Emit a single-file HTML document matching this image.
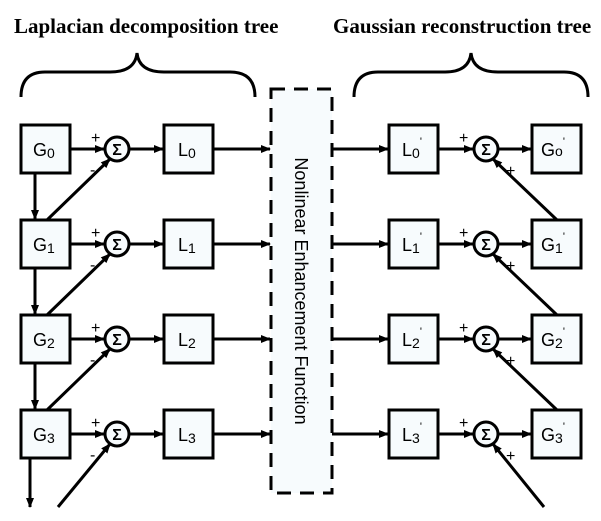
<!DOCTYPE html>
<html><head><meta charset="utf-8"><style>
html,body{margin:0;padding:0;background:#fff;}
svg{display:block;}
.t{font-family:"Liberation Serif",serif;font-weight:bold;font-size:21px;}
.b{font-family:"Liberation Sans",sans-serif;font-size:18px;}
.s{font-family:"Liberation Sans",sans-serif;font-size:16px;}
</style></head><body>
<svg width="601" height="521" viewBox="0 0 601 521" xmlns="http://www.w3.org/2000/svg">
<defs>
<marker id="a" markerWidth="10" markerHeight="10" refX="9" refY="5" orient="auto" markerUnits="userSpaceOnUse">
<path d="M0,1 L10,5 L0,9 Z" fill="#000"/></marker>
</defs>
<text class="t" x="14" y="33">Laplacian decomposition tree</text>
<text class="t" x="333" y="33">Gaussian reconstruction tree</text>
<g fill="none" stroke="#000" stroke-width="3">
<path d="M21,97 Q21,72 45,72 L110,72 Q135,72 137,53 Q139,72 164,72 L230,72 Q255,72 255,97"/>
<path d="M354,97 Q354,72 378,72 L445,72 Q469,72 471,53 Q473,72 498,72 L564,72 Q588,72 588,97"/>
<rect x="271" y="89" width="61" height="404" stroke-dasharray="14,9" fill="#f7fbfd"/>
</g>
<text class="b" transform="translate(295,291) rotate(90)" text-anchor="middle">Nonlinear Enhancement Function</text>
<g stroke="#000" stroke-width="3" fill="#f7fbfd">
<rect x="21" y="125" width="49" height="48"/><rect x="21" y="220" width="49" height="48"/><rect x="21" y="315" width="49" height="48"/><rect x="21" y="410" width="49" height="48"/>
<rect x="164" y="125" width="49" height="48"/><rect x="164" y="220" width="49" height="48"/><rect x="164" y="315" width="49" height="48"/><rect x="164" y="410" width="49" height="48"/>
<rect x="389" y="125" width="49" height="48"/><rect x="389" y="220" width="49" height="48"/><rect x="389" y="315" width="49" height="48"/><rect x="389" y="410" width="49" height="48"/>
<rect x="532" y="125" width="49" height="48"/><rect x="532" y="220" width="49" height="48"/><rect x="532" y="315" width="49" height="48"/><rect x="532" y="410" width="49" height="48"/>
<circle cx="117" cy="149" r="12"/><circle cx="117" cy="244" r="12"/><circle cx="117" cy="339" r="12"/><circle cx="117" cy="434" r="12"/>
<circle cx="486" cy="149" r="12"/><circle cx="486" cy="244" r="12"/><circle cx="486" cy="339" r="12"/><circle cx="486" cy="434" r="12"/>
</g>
<g stroke="#000" stroke-width="3" fill="none" marker-end="url(#a)">
<line x1="70" y1="149" x2="104" y2="149"/><line x1="70" y1="244" x2="104" y2="244"/><line x1="70" y1="339" x2="104" y2="339"/><line x1="70" y1="434" x2="104" y2="434"/>
<line x1="129" y1="149" x2="163" y2="149"/><line x1="129" y1="244" x2="163" y2="244"/><line x1="129" y1="339" x2="163" y2="339"/><line x1="129" y1="434" x2="163" y2="434"/>
<line x1="213" y1="149" x2="270" y2="149"/><line x1="213" y1="244" x2="270" y2="244"/><line x1="213" y1="339" x2="270" y2="339"/><line x1="213" y1="434" x2="270" y2="434"/>
<line x1="332" y1="149" x2="388" y2="149"/><line x1="332" y1="244" x2="388" y2="244"/><line x1="332" y1="339" x2="388" y2="339"/><line x1="332" y1="434" x2="388" y2="434"/>
<line x1="438" y1="149" x2="473" y2="149"/><line x1="438" y1="244" x2="473" y2="244"/><line x1="438" y1="339" x2="473" y2="339"/><line x1="438" y1="434" x2="473" y2="434"/>
<line x1="498" y1="149" x2="531" y2="149"/><line x1="498" y1="244" x2="531" y2="244"/><line x1="498" y1="339" x2="531" y2="339"/><line x1="498" y1="434" x2="531" y2="434"/>
<line x1="35" y1="173" x2="35" y2="219"/><line x1="35" y1="268" x2="35" y2="314"/><line x1="35" y1="363" x2="35" y2="409"/><line x1="30" y1="458" x2="30" y2="507"/>
<line x1="47" y1="220" x2="110" y2="159"/><line x1="47" y1="315" x2="110" y2="254"/><line x1="47" y1="410" x2="110" y2="349"/><line x1="58" y1="507" x2="110" y2="444"/>
<line x1="557" y1="220" x2="493" y2="159"/><line x1="557" y1="315" x2="493" y2="254"/><line x1="557" y1="410" x2="493" y2="349"/><line x1="544" y1="507" x2="493" y2="444"/>
</g>
<g class="s" font-weight="bold" text-anchor="middle">
<text x="117" y="155">Σ</text><text x="117" y="250">Σ</text><text x="117" y="345">Σ</text><text x="117" y="440">Σ</text>
<text x="486" y="155">Σ</text><text x="486" y="250">Σ</text><text x="486" y="345">Σ</text><text x="486" y="440">Σ</text>
</g>
<g class="s">
<text x="91" y="143">+</text><text x="91" y="238">+</text><text x="91" y="333">+</text><text x="91" y="428">+</text>
<text x="90" y="175">-</text><text x="90" y="270">-</text><text x="90" y="365">-</text><text x="90" y="460">-</text>
<text x="459" y="143">+</text><text x="459" y="238">+</text><text x="459" y="333">+</text><text x="459" y="428">+</text>
<text x="506" y="176">+</text><text x="506" y="271">+</text><text x="506" y="366">+</text><text x="506" y="461">+</text>
</g>
<g class="b">
<text x="33" y="156">G<tspan font-size="14" dy="2">0</tspan></text>
<text x="33" y="251">G<tspan font-size="14" dy="2">1</tspan></text>
<text x="33" y="346">G<tspan font-size="14" dy="2">2</tspan></text>
<text x="33" y="441">G<tspan font-size="14" dy="2">3</tspan></text>
<text x="178" y="156">L<tspan font-size="14" dy="2">0</tspan></text>
<text x="178" y="251">L<tspan font-size="14" dy="2">1</tspan></text>
<text x="178" y="346">L<tspan font-size="14" dy="2">2</tspan></text>
<text x="178" y="441">L<tspan font-size="14" dy="2">3</tspan></text>
<text x="402" y="156">L<tspan font-size="14" dy="2">0</tspan><tspan font-size="11" dy="-13">'</tspan></text>
<text x="402" y="251">L<tspan font-size="14" dy="2">1</tspan><tspan font-size="11" dy="-13">'</tspan></text>
<text x="402" y="346">L<tspan font-size="14" dy="2">2</tspan><tspan font-size="11" dy="-13">'</tspan></text>
<text x="402" y="441">L<tspan font-size="14" dy="2">3</tspan><tspan font-size="11" dy="-13">'</tspan></text>
<text x="541" y="156">G<tspan font-size="14" dy="0">o</tspan><tspan font-size="11" dy="-11">'</tspan></text>
<text x="541" y="251">G<tspan font-size="14" dy="2">1</tspan><tspan font-size="11" dy="-13">'</tspan></text>
<text x="541" y="346">G<tspan font-size="14" dy="2">2</tspan><tspan font-size="11" dy="-13">'</tspan></text>
<text x="541" y="441">G<tspan font-size="14" dy="2">3</tspan><tspan font-size="11" dy="-13">'</tspan></text>
</g>
</svg>
</body></html>
